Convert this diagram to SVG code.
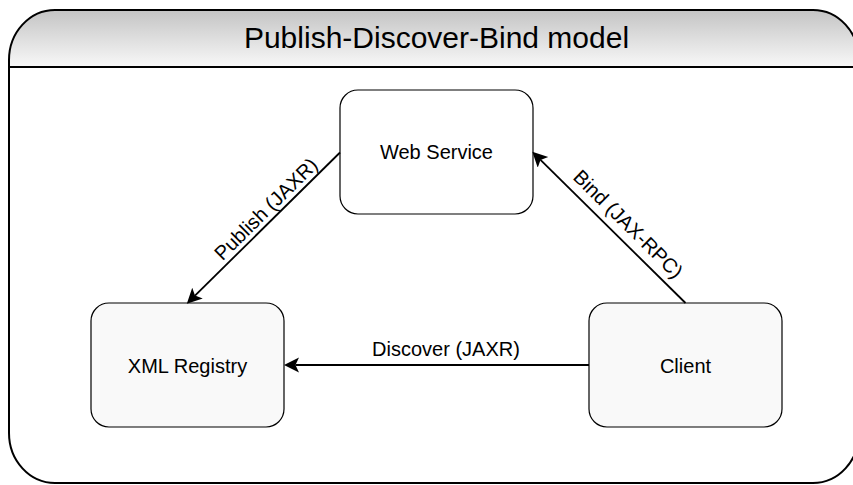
<svg xmlns="http://www.w3.org/2000/svg" width="853" height="485" viewBox="0 0 853 485">
  <style>
    .label { font-family: "Liberation Sans", Arial, sans-serif; font-size: 20px; fill: #000; }
    .title { font-family: "Liberation Sans", Arial, sans-serif; font-size: 30px; fill: #000; }
    .node { stroke: #000; stroke-width: 1.2; }
    .edge { fill: none; stroke: #000; stroke-width: 1.8; marker-end: url(#arrow); }
  </style>
  <defs>
    <linearGradient id="headFill" x1="0" y1="0" x2="0" y2="1">
      <stop offset="0" stop-color="#c4c4c4"/>
      <stop offset="1" stop-color="#f8f8f8"/>
    </linearGradient>
    <marker id="arrow" markerUnits="userSpaceOnUse" markerWidth="16" markerHeight="16" refX="3.5" refY="7.5" orient="auto">
      <path d="M15,7.5 L0,0 L3.5,7.5 L0,15 Z" fill="#000"/>
    </marker>
  </defs>

  <!-- container with gradient header -->
  <g id="container">
    <rect x="9" y="10" width="850" height="473" rx="46" ry="50" fill="#fff"/>
    <path d="M9,67 V60 A46,50 0 0 1 55,10 H813 A46,50 0 0 1 859,60 V67 Z" fill="url(#headFill)"/>
    <line x1="9" y1="67" x2="859" y2="67" stroke="#000" stroke-width="2"/>
    <rect x="9" y="10" width="850" height="473" rx="46" ry="50" fill="none" stroke="#000" stroke-width="2"/>
    <text class="title" x="436.5" y="47.5" text-anchor="middle">Publish-Discover-Bind model</text>
  </g>

  <g id="web-service">
    <rect class="node" x="340" y="90" width="193" height="124" rx="18" ry="18" fill="#fff"/>
    <text class="label" x="436.5" y="158.5" text-anchor="middle">Web Service</text>
  </g>

  <g id="xml-registry">
    <rect class="node" x="91" y="303" width="193" height="124" rx="18" ry="18" fill="#f9f9f9"/>
    <text class="label" x="187.5" y="372.5" text-anchor="middle">XML Registry</text>
  </g>

  <g id="client">
    <rect class="node" x="589" y="303" width="193" height="124" rx="18" ry="18" fill="#f9f9f9"/>
    <text class="label" x="685.5" y="372.5" text-anchor="middle">Client</text>
  </g>

  <g id="connectors">
    <path class="edge" d="M589,365 L295.5,365"/>
    <text class="label" x="446" y="356" text-anchor="middle">Discover (JAXR)</text>

    <path class="edge" d="M340,152.5 L195,295.6"/>
    <text class="label" x="270.7" y="214" text-anchor="middle" transform="rotate(-44.6 270.7 214)">Publish (JAXR)</text>

    <path class="edge" d="M685.5,303 L540.5,159.9"/>
    <text class="label" x="623.4" y="229" text-anchor="middle" transform="rotate(44.6 623.4 229)">Bind (JAX-RPC)</text>
  </g>
</svg>
